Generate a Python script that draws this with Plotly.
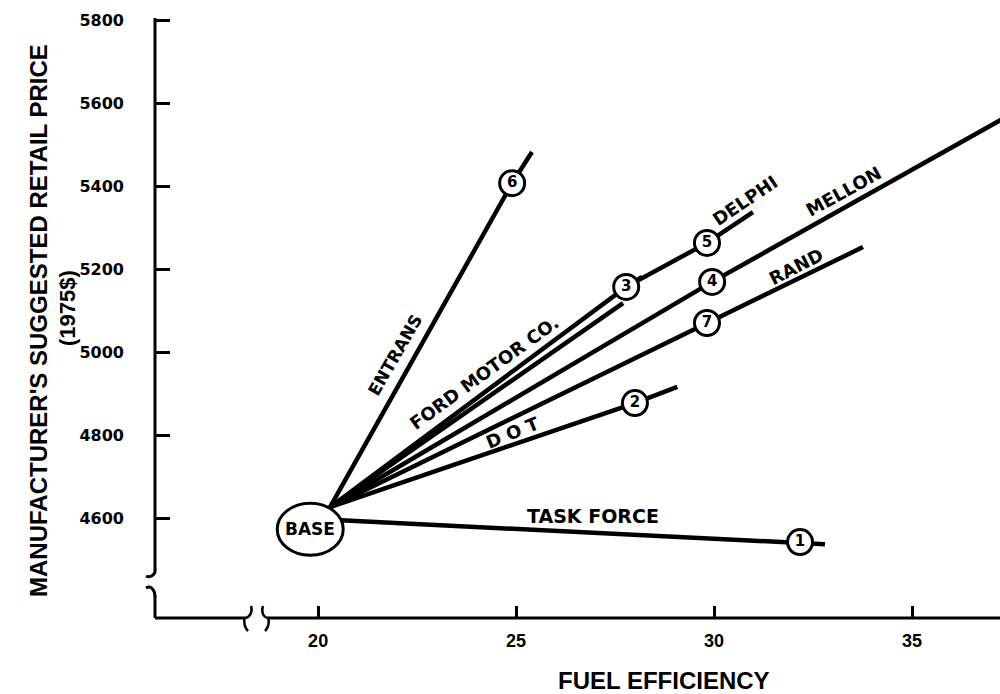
import plotly.graph_objects as go

# ---------------- data ----------------
base_x, base_y = 20.3, 4626          # convergence point of all estimates
base_circle_x, base_circle_y = 19.8, 4573

taskforce_x = [20.45, 32.17, 32.8]
taskforce_y = [4595, 4542, 4537]
dot_x = [base_x, 28.0, 29.07]
dot_y = [base_y, 4877, 4916]
rand_x = [base_x, 29.82, 33.76]
rand_y = [base_y, 5070, 5253]
mellon_x = [base_x, 29.95, 38.0]
mellon_y = [base_y, 5169, 5600]
ford_x = [base_x, 27.7]
ford_y = [base_y, 5118]
delphi_x = [base_x, 27.78, 29.82, 30.98]
delphi_y = [base_y, 5157, 5263, 5337]
stub_x = [27.78, 28.18]
stub_y = [5157, 5181]
entrans_x = [base_x, 24.9, 25.4]
entrans_y = [base_y, 5407, 5482]

circle_ids = ["1", "2", "3", "4", "5", "6", "7"]
circle_x = [32.17, 28.0, 27.78, 29.95, 29.82, 24.9, 29.82]
circle_y = [4542, 4877, 5157, 5169, 5263, 5407, 5070]

label_text = ["ENTRANS", "FORD MOTOR CO.", "D O T", "DELPHI", "MELLON", "RAND", "TASK FORCE"]
label_x = [21.94, 24.2, 24.92, 30.78, 33.26, 32.07, 26.94]
label_y = [4993, 4950, 4805, 5366, 5388, 5207, 4605]
label_angle = [-60, -36, -22, -34, -29, -27, 0]
label_size = [17, 18, 18, 18, 18, 18, 19]

x_ticks = [20, 25, 30, 35]
y_ticks = [4600, 4800, 5000, 5200, 5400, 5600, 5800]

# ---------------- figure ----------------
fig = go.Figure()
LW = 4.5
for xs, ys in [(taskforce_x, taskforce_y), (dot_x, dot_y), (rand_x, rand_y),
               (mellon_x, mellon_y), (ford_x, ford_y), (delphi_x, delphi_y),
               (stub_x, stub_y), (entrans_x, entrans_y)]:
    fig.add_trace(go.Scatter(x=xs, y=ys, mode="lines",
                             line=dict(color="black", width=LW), hoverinfo="skip",
                             showlegend=False))

fig.add_trace(go.Scatter(
    x=circle_x, y=circle_y, mode="markers+text", text=[f"<b>{c}</b>" for c in circle_ids],
    textposition="middle center",
    textfont=dict(family="DejaVu Sans", size=15, color="black"),
    marker=dict(symbol="circle", size=25, color="white", line=dict(color="black", width=3)),
    showlegend=False, cliponaxis=False))

for t, x, y, a, s in zip(label_text, label_x, label_y, label_angle, label_size):
    fig.add_annotation(x=x, y=y, text=f"<b>{t}</b>", textangle=a, showarrow=False,
                       font=dict(family="DejaVu Sans", size=s, color="black"))

# BASE ellipse (anchored at the base point, sized in pixels) and its label
fig.add_annotation(x=base_circle_x, y=base_circle_y, text="<b>BASE</b>", showarrow=False,
                   font=dict(family="DejaVu Sans", size=17, color="black"))

L, R, T, B = 155, 1000, 18, 618
W, H = R - L, B - T


def P(px, py):
    return f"{(px - L) / W:.5f},{(B - py) / H:.5f}"


shapes = []
shapes.append(dict(type="circle", xref="x", yref="y", xsizemode="pixel", ysizemode="pixel",
                   xanchor=base_circle_x, yanchor=base_circle_y,
                   x0=-33, x1=33, y0=-26, y1=26, layer="above",
                   fillcolor="white", line=dict(color="black", width=3)))
# y axis with break
shapes.append(dict(type="line", xref="paper", yref="paper", x0=0, x1=0,
                   y0=1, y1=(B - 570) / H, line=dict(color="black", width=3)))
shapes.append(dict(type="line", xref="paper", yref="paper", x0=0, x1=0,
                   y0=(B - 596) / H, y1=0, line=dict(color="black", width=3)))
shapes.append(dict(type="path", xref="paper", yref="paper",
                   path=f"M{P(155, 569)} C{P(156, 575)} {P(150, 578)} {P(146, 576)}",
                   line=dict(color="black", width=3)))
shapes.append(dict(type="path", xref="paper", yref="paper",
                   path=f"M{P(146, 588)} C{P(151, 585)} {P(155, 590)} {P(155, 597)}",
                   line=dict(color="black", width=3)))
# x axis with break
shapes.append(dict(type="line", xref="paper", yref="paper", x0=0, x1=(245 - L) / W,
                   y0=0, y1=0, line=dict(color="black", width=3)))
shapes.append(dict(type="line", xref="paper", yref="paper", x0=(268 - L) / W, x1=1,
                   y0=0, y1=0, line=dict(color="black", width=3)))
shapes.append(dict(type="path", xref="paper", yref="paper",
                   path=f"M{P(245, 618)} C{P(250, 617)} {P(253, 612)} {P(251, 606)}"
                        f" M{P(245, 618)} C{P(243, 622)} {P(245, 628)} {P(248, 631)}",
                   line=dict(color="black", width=2.5)))
shapes.append(dict(type="path", xref="paper", yref="paper",
                   path=f"M{P(268, 618)} C{P(263, 617)} {P(261, 612)} {P(263, 606)}"
                        f" M{P(268, 618)} C{P(270, 622)} {P(268, 628)} {P(265, 631)}",
                   line=dict(color="black", width=2.5)))

fig.update_layout(
    width=1000, height=694,
    margin=dict(l=L, r=0, t=T, b=694 - B),
    paper_bgcolor="white", plot_bgcolor="white",
    shapes=shapes,
    xaxis=dict(range=[15.88, 37.22], tickvals=x_ticks, ticks="inside", ticklen=12,
               tickwidth=2.5, tickcolor="black", showline=False, showgrid=False,
               zeroline=False, ticklabelstandoff=10,
               tickfont=dict(family="Liberation Sans", size=18,
                             color="black", weight="bold")),
    yaxis=dict(range=[4359, 5805], tickvals=y_ticks, ticks="inside", ticklen=15,
               tickwidth=2.5, tickcolor="black", showline=False, showgrid=False,
               zeroline=False, ticklabelstandoff=30,
               tickfont=dict(family="DejaVu Sans", size=16, color="black", weight="bold")),
    annotations=list(fig.layout.annotations) + [
        dict(xref="paper", yref="paper", x=(38 - L) / W, y=(B - 321) / H,
             text="<b>MANUFACTURER'S SUGGESTED RETAIL PRICE</b>", textangle=-90,
             showarrow=False, xanchor="center", yanchor="middle",
             font=dict(family="Liberation Sans", size=24, color="black")),
        dict(xref="paper", yref="paper", x=(68 - L) / W, y=(B - 308) / H,
             text="<b>(1975$)</b>", textangle=-90,
             showarrow=False, xanchor="center", yanchor="middle",
             font=dict(family="Liberation Sans", size=22, color="black")),
        dict(xref="paper", yref="paper", x=(664 - L) / W, y=(B - 680) / H,
             text="<b>FUEL EFFICIENCY</b>", showarrow=False, xanchor="center", yanchor="middle",
             font=dict(family="Liberation Sans", size=24, color="black")),
    ],
)

fig.write_html("out.html", config={"displayModeBar": False},
               post_script="document.body.style.margin='0';document.body.style.overflow='hidden';")
